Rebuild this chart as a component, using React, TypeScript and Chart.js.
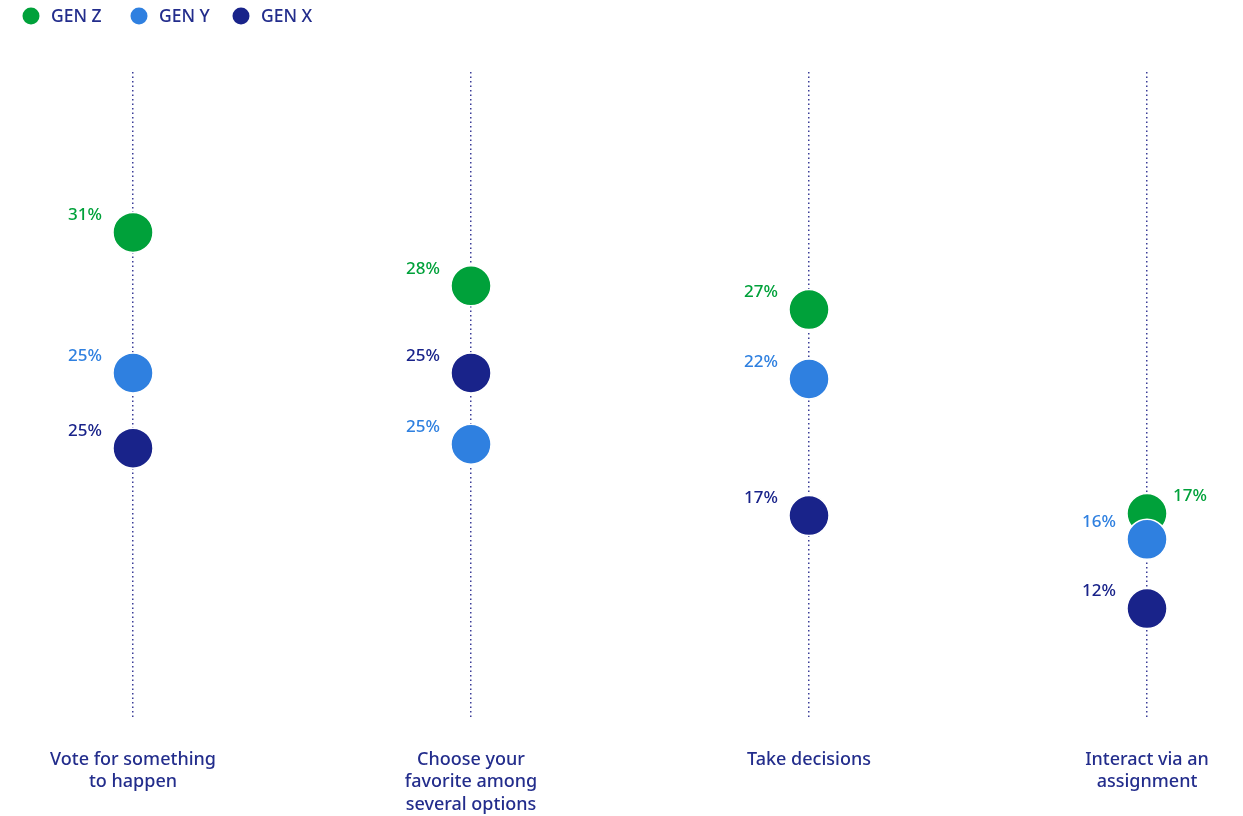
import React, { useEffect, useRef } from "react";
import { Chart, registerables } from "chart.js";

Chart.register(...registerables);

// Categories (x axis)
const categories: string[][] = [
  ["Vote for something", "to happen"],
  ["Choose your", "favorite among", "several options"],
  ["Take decisions"],
  ["Interact via an", "assignment"],
];

const seriesNames = ["GEN Z", "GEN Y", "GEN X"];
const seriesColors = ["#00a13a", "#2f80e0", "#19238a"];

// Printed labels
const genZLabels = ["31%", "28%", "27%", "17%"];
const genYLabels = ["25%", "25%", "22%", "16%"];
const genXLabels = ["25%", "25%", "17%", "12%"];

// Plotted positions
const genZValues = [31, 28.3, 27.1, 16.8];
const genYValues = [23.9, 20.3, 23.6, 15.5];
const genXValues = [20.1, 23.9, 16.7, 12.0];

// label to the right of the dot instead of left
const genZRight = [false, false, false, true];
const genYRight = [false, false, false, false];
const genXRight = [false, false, false, false];

const TEXT_NAVY = "#232d8c";
const FONT = "'Noto Sans', 'Open Sans', sans-serif";

const allLabels = [genZLabels, genYLabels, genXLabels];
const allValues = [genZValues, genYValues, genXValues];
const allRight = [genZRight, genYRight, genXRight];

const overlayPlugin = {
  id: "overlay",
  afterDatasetsDraw(chart: any) {
    const ctx = chart.ctx;
    ctx.save();
    ctx.font = `500 17px ${FONT}`;
    ctx.textBaseline = "middle";
    chart.data.datasets.forEach((ds: any, di: number) => {
      const meta = chart.getDatasetMeta(di);
      meta.data.forEach((pt: any, i: number) => {
        const right = allRight[di][i];
        ctx.fillStyle = seriesColors[di];
        ctx.textAlign = right ? "left" : "right";
        const x = right ? pt.x + 26 : pt.x - 31;
        ctx.fillText(allLabels[di][i], x, pt.y - 17);
      });
    });
    // legend
    const legendX = [31, 139, 241];
    ctx.font = `500 17.5px ${FONT}`;
    ctx.textAlign = "left";
    seriesNames.forEach((name, i) => {
      ctx.beginPath();
      ctx.fillStyle = seriesColors[i];
      ctx.arc(legendX[i], 16, 8.5, 0, Math.PI * 2);
      ctx.fill();
      ctx.fillStyle = TEXT_NAVY;
      ctx.fillText(name, legendX[i] + 20, 17);
    });
    ctx.restore();
  },
};

export default function App() {
  const ref = useRef<HTMLCanvasElement | null>(null);
  useEffect(() => {
    if (!ref.current) return;
    const datasets = seriesNames.map((name, di) => ({
      label: name,
      data: allValues[di].map((v, i) => ({ x: i, y: v })),
      backgroundColor: seriesColors[di],
      borderColor: "#ffffff",
      pointBackgroundColor: seriesColors[di],
      pointBorderColor: "#ffffff",
      pointBorderWidth: 1.5,
      pointRadius: 20,
      pointHoverRadius: 20,
      showLine: false,
      order: 3 - di,
    }));
    const chart = new Chart(ref.current, {
      type: "scatter",
      data: { datasets },
      options: {
        animation: false,
        responsive: false,
        layout: { autoPadding: false, padding: { top: 72, bottom: -31, left: 0, right: 0 } },
        plugins: { legend: { display: false }, tooltip: { enabled: false } },
        scales: {
          x: {
            type: "linear",
            min: -0.3935,
            max: 3.284,
            afterBuildTicks: (scale: any) => {
              scale.ticks = categories.map((_, i) => ({ value: i }));
            },
            grid: {
              color: "#3b3d98",
              lineWidth: 1.5,
              drawTicks: false,
            },
            border: { display: false, dash: [1.5, 3] },
            ticks: {
              autoSkip: false,
              maxRotation: 0,
              padding: 31,
              color: TEXT_NAVY,
              font: { family: FONT, size: 18, weight: "500", lineHeight: 1.25 },
              callback: (v: any) => categories[v as number] ?? "",
            },
          },
          y: {
            display: false,
            min: 6.5,
            max: 39.1,
          },
        },
      },
      plugins: [overlayPlugin],
    });
    return () => chart.destroy();
  }, []);
  return (
    <div style={{ position: "fixed", left: 0, top: 0, width: 1243, height: 816, background: "#fff" }}>
      <canvas ref={ref} width={1243} height={816} />
    </div>
  );
}
